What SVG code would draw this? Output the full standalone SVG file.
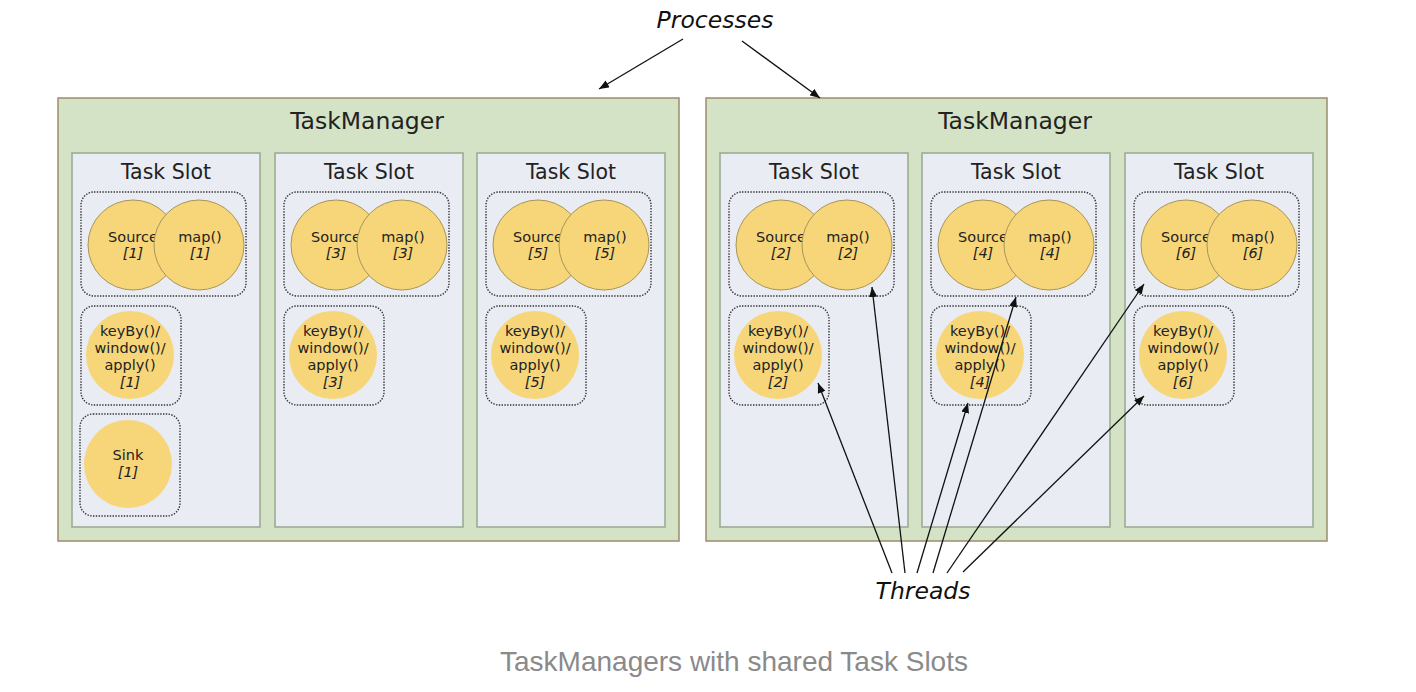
<svg xmlns="http://www.w3.org/2000/svg" width="1416" height="692" viewBox="0 0 1416 692">
<defs>
<style>
.tm{fill:#d4e3c6;stroke:#9c8c6c;stroke-width:1.5}
.slot{fill:#e9ecf3;stroke:#97a990;stroke-width:1.5}
.grp{fill:none;stroke:#333;stroke-width:1.4;stroke-dasharray:1.4 1.4}
.op{fill:#f7d67a;stroke:#a8945a;stroke-width:1}
.opn{fill:#f7d67a}
.t{font-family:"DejaVu Sans",Verdana,sans-serif;fill:#222;text-anchor:middle}
.tmT{font-size:23.5px}
.slT{font-size:20.5px}
.ot{font-size:14.5px}
.it{font-style:italic}
.lbl{font-family:"DejaVu Sans",Verdana,sans-serif;font-style:italic;font-size:23.5px;fill:#111;text-anchor:middle}
.cap{font-family:"Liberation Sans",Arial,sans-serif;font-size:28px;fill:#8a8a8a;text-anchor:middle}
.arr{stroke:#111;stroke-width:1.3;fill:none;marker-end:url(#ah)}
</style>
<marker id="ah" markerUnits="userSpaceOnUse" markerWidth="10" markerHeight="8" refX="10" refY="4" orient="auto">
<path d="M0,0 L10,4 L0,8 z" fill="#111"/>
</marker>
<g id="slotbase">
<rect class="slot" x="72" y="153" width="188" height="374"/>
<text class="t slT" x="166" y="179">Task Slot</text>
<rect class="grp" x="81" y="192" width="165" height="104" rx="13"/>
<rect class="grp" x="81" y="306" width="100" height="99" rx="13"/>
</g>
</defs>
<rect width="1416" height="692" fill="#fff"/>

<g id="taskmanager1">
<rect class="tm" x="58" y="98" width="621" height="443"/>
<text class="t tmT" x="367" y="129">TaskManager</text>
</g>
<g id="taskmanager2">
<rect class="tm" x="706" y="98" width="621" height="443"/>
<text class="t tmT" x="1015" y="129">TaskManager</text>
</g>

<g id="slot1">
<use href="#slotbase"/>
<circle class="op" cx="133" cy="245" r="45"/>
<text class="t ot" x="133" y="242">Source</text><text class="t ot it" x="133" y="258">[1]</text>
<circle class="op" cx="199" cy="245" r="45"/>
<text class="t ot" x="200" y="242">map()</text><text class="t ot it" x="200" y="258">[1]</text>
<circle class="opn" cx="130" cy="355" r="44"/>
<text class="t ot" x="130" y="336">keyBy()/</text><text class="t ot" x="130" y="353">window()/</text><text class="t ot" x="130" y="370">apply()</text><text class="t ot it" x="130" y="387">[1]</text>
<rect class="grp" x="80" y="414" width="100" height="102" rx="13"/>
<circle class="opn" cx="128" cy="464" r="44"/>
<text class="t ot" x="128" y="460">Sink</text><text class="t ot it" x="128" y="477">[1]</text>
</g>

<g id="slot2" transform="translate(203,0)">
<use href="#slotbase"/>
<circle class="op" cx="133" cy="245" r="45"/>
<text class="t ot" x="133" y="242">Source</text><text class="t ot it" x="133" y="258">[3]</text>
<circle class="op" cx="199" cy="245" r="45"/>
<text class="t ot" x="200" y="242">map()</text><text class="t ot it" x="200" y="258">[3]</text>
<circle class="opn" cx="130" cy="355" r="44"/>
<text class="t ot" x="130" y="336">keyBy()/</text><text class="t ot" x="130" y="353">window()/</text><text class="t ot" x="130" y="370">apply()</text><text class="t ot it" x="130" y="387">[3]</text>
</g>

<g id="slot3" transform="translate(405,0)">
<use href="#slotbase"/>
<circle class="op" cx="133" cy="245" r="45"/>
<text class="t ot" x="133" y="242">Source</text><text class="t ot it" x="133" y="258">[5]</text>
<circle class="op" cx="199" cy="245" r="45"/>
<text class="t ot" x="200" y="242">map()</text><text class="t ot it" x="200" y="258">[5]</text>
<circle class="opn" cx="130" cy="355" r="44"/>
<text class="t ot" x="130" y="336">keyBy()/</text><text class="t ot" x="130" y="353">window()/</text><text class="t ot" x="130" y="370">apply()</text><text class="t ot it" x="130" y="387">[5]</text>
</g>

<g id="slot4" transform="translate(648,0)">
<use href="#slotbase"/>
<circle class="op" cx="133" cy="245" r="45"/>
<text class="t ot" x="133" y="242">Source</text><text class="t ot it" x="133" y="258">[2]</text>
<circle class="op" cx="199" cy="245" r="45"/>
<text class="t ot" x="200" y="242">map()</text><text class="t ot it" x="200" y="258">[2]</text>
<circle class="opn" cx="130" cy="355" r="44"/>
<text class="t ot" x="130" y="336">keyBy()/</text><text class="t ot" x="130" y="353">window()/</text><text class="t ot" x="130" y="370">apply()</text><text class="t ot it" x="130" y="387">[2]</text>
</g>

<g id="slot5" transform="translate(850,0)">
<use href="#slotbase"/>
<circle class="op" cx="133" cy="245" r="45"/>
<text class="t ot" x="133" y="242">Source</text><text class="t ot it" x="133" y="258">[4]</text>
<circle class="op" cx="199" cy="245" r="45"/>
<text class="t ot" x="200" y="242">map()</text><text class="t ot it" x="200" y="258">[4]</text>
<circle class="opn" cx="130" cy="355" r="44"/>
<text class="t ot" x="130" y="336">keyBy()/</text><text class="t ot" x="130" y="353">window()/</text><text class="t ot" x="130" y="370">apply()</text><text class="t ot it" x="130" y="387">[4]</text>
</g>

<g id="slot6" transform="translate(1053,0)">
<use href="#slotbase"/>
<circle class="op" cx="133" cy="245" r="45"/>
<text class="t ot" x="133" y="242">Source</text><text class="t ot it" x="133" y="258">[6]</text>
<circle class="op" cx="199" cy="245" r="45"/>
<text class="t ot" x="200" y="242">map()</text><text class="t ot it" x="200" y="258">[6]</text>
<circle class="opn" cx="130" cy="355" r="44"/>
<text class="t ot" x="130" y="336">keyBy()/</text><text class="t ot" x="130" y="353">window()/</text><text class="t ot" x="130" y="370">apply()</text><text class="t ot it" x="130" y="387">[6]</text>
</g>

<g id="processes">
<text class="lbl" x="715" y="28">Processes</text>
</g>
<g id="threads">
<text class="lbl" x="923" y="599">Threads</text>
</g>

<g id="connectors">
<line class="arr" x1="683" y1="39" x2="599" y2="89"/>
<line class="arr" x1="742" y1="41" x2="820" y2="98"/>
<line class="arr" x1="892" y1="573" x2="818" y2="383"/>
<line class="arr" x1="905" y1="573" x2="872" y2="287"/>
<line class="arr" x1="917" y1="573" x2="968" y2="403"/>
<line class="arr" x1="933" y1="573" x2="1016" y2="297"/>
<line class="arr" x1="947" y1="573" x2="1144" y2="284"/>
<line class="arr" x1="963" y1="572" x2="1144" y2="396"/>
</g>

<g id="caption">
<text class="cap" x="734" y="671">TaskManagers with shared Task Slots</text>
</g>
</svg>
